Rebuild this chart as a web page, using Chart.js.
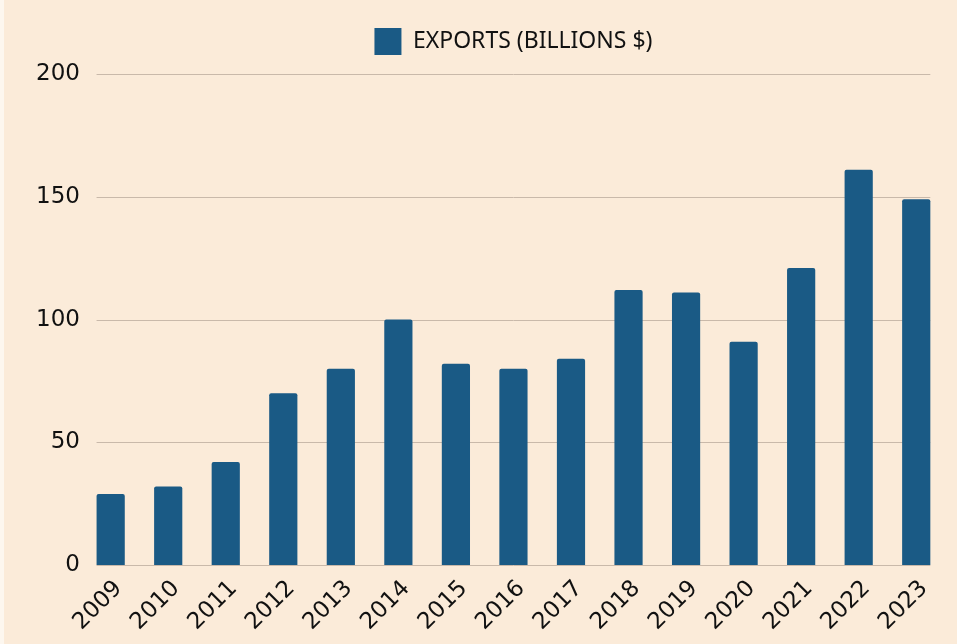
<!DOCTYPE html>
<html>
<head>
<meta charset="utf-8">
<script src="https://cdn.jsdelivr.net/npm/chart.js@4/dist/chart.umd.min.js"></script>
<style>
  html, body { margin: 0; padding: 0; background: #fdf7ef; }
  #wrap { position: absolute; left: 4px; top: 0; width: 953px; height: 644px; background: #fbebd9; }
</style>
</head>
<body>
<div id="wrap"><canvas id="grafico"></canvas></div>
<script>
const anios = ['2009', '2010', '2011', '2012', '2013', '2014', '2015', '2016', '2017', '2018', '2019', '2020', '2021', '2022', '2023'];
const exportaciones = [29, 32, 42, 70, 80, 100, 82, 80, 84, 112, 111, 91, 121, 161, 149];
const ticksY = [0, 50, 100, 150, 200];

// lineas horizontales solo entre la primera y la ultima barra
const lineasGuia = {
  id: 'lineasGuia',
  beforeLayout(chart) {
    // un poco mas de aire debajo de la leyenda
    const leyenda = chart.legend;
    if (leyenda && !leyenda._extra) {
      const fitOrig = leyenda.fit;
      leyenda.fit = function () {
        fitOrig.call(this);
        this.height += 9;
      };
      leyenda._extra = true;
    }
  },
  beforeDatasetsDraw(chart) {
    const barras = chart.getDatasetMeta(0).data;
    const ini = barras[0].x - barras[0].width / 2;
    const fin = barras[barras.length - 1].x + barras[barras.length - 1].width / 2;
    const ctx = chart.ctx;
    ctx.save();
    ctx.strokeStyle = '#c9b9aa';
    ctx.lineWidth = 1;
    ticksY.forEach(v => {
      const y = Math.round(chart.scales.y.getPixelForValue(v)) + 0.5;
      ctx.beginPath();
      ctx.moveTo(ini, y);
      ctx.lineTo(fin, y);
      ctx.stroke();
    });
    ctx.restore();
  }
};

Chart.defaults.font.family = "'DejaVu Sans', sans-serif";
Chart.defaults.color = '#111111';

new Chart(document.getElementById('grafico'), {
  type: 'bar',
  data: {
    labels: anios,
    datasets: [{
      label: 'EXPORTS (BILLIONS $)',
      data: exportaciones,
      backgroundColor: '#1a5a85',
      borderRadius: 2,
      borderSkipped: 'bottom',
      categoryPercentage: 1,
      barPercentage: 0.49
    }]
  },
  options: {
    responsive: true,
    maintainAspectRatio: false,
    animation: false,
    layout: { padding: { top: 9, left: 30, right: 12, bottom: 6 } },
    plugins: {
      legend: {
        fullSize: false,
        labels: {
          boxWidth: 27,
          boxHeight: 27,
          padding: 19,
          font: { size: 23, family: "'Noto Sans', sans-serif" }
        }
      },
      tooltip: { enabled: false }
    },
    scales: {
      x: {
        grid: { display: false },
        border: { display: false },
        ticks: {
          minRotation: 45,
          maxRotation: 45,
          padding: 2,
          labelOffset: 8,
          font: { size: 23 }
        }
      },
      y: {
        min: 0,
        max: 200,
        grid: { display: false, drawTicks: false },
        border: { display: false },
        ticks: {
          stepSize: 50,
          padding: 2,
          font: { size: 23 }
        }
      }
    }
  },
  plugins: [lineasGuia]
});
</script>
</body>
</html>
